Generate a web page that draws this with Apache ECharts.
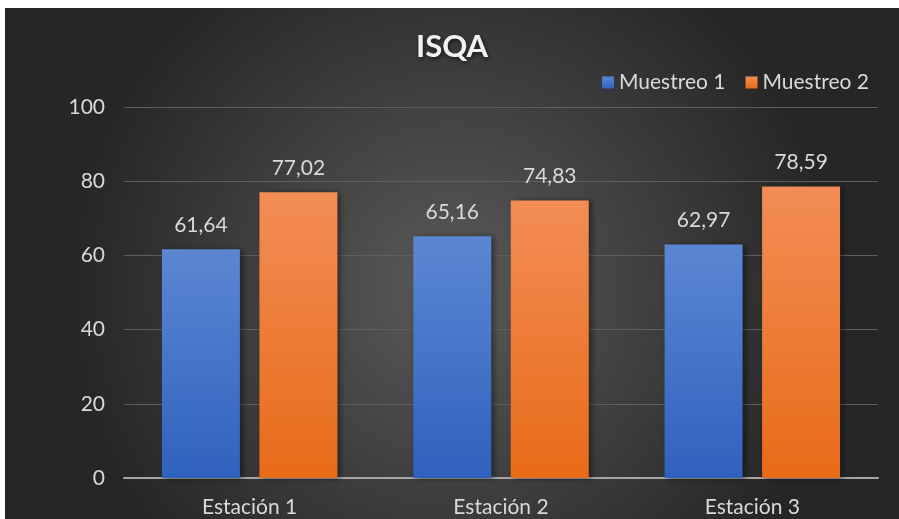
<!DOCTYPE html>
<html>
<head>
<meta charset="utf-8">
<script src="https://cdn.jsdelivr.net/npm/echarts@6/dist/echarts.min.js"></script>
<style>
    body { margin:0; background:#fff; }
    #isqaChart { position:absolute; left:5px; top:8px; width:894px; height:511px; }
</style>
</head>
<body>
<div id="isqaChart"></div>
<script>
var estaciones = ['Estación 1', 'Estación 2', 'Estación 3'];
var muestreo1 = [61.64, 65.16, 62.97];
var muestreo2 = [77.02, 74.83, 78.59];

function coma(p) {
    return p.value.toFixed(2).replace('.', ',');
}

function barFill(top, bottom) {
    return new echarts.graphic.LinearGradient(0, 0, 0, 1, [
        {offset: 0, color: top},
        {offset: 1, color: bottom}
    ]);
}

var isqaChart = echarts.init(document.getElementById('isqaChart'));
isqaChart.setOption({
    backgroundColor: {
        type: 'radial', x: 0.5, y: 0.55, r: 0.75,
        colorStops: [
            {offset: 0, color: '#5a5a5a'},
            {offset: 1, color: '#262626'}
        ]
    },
    textStyle: { fontFamily: 'Lato' },
    title: {
        text: 'ISQA',
        left: 'center',
        top: 18,
        textStyle: {
            color: '#f2f2f2',
            fontSize: 31,
            fontWeight: 'bold',
            fontFamily: 'Lato',
            textShadowColor: 'rgba(0,0,0,0.6)',
            textShadowBlur: 4,
            textShadowOffsetX: 1,
            textShadowOffsetY: 2
        }
    },
    legend: {
        right: 25,
        top: 59,
        itemWidth: 12,
        itemHeight: 12,
        itemGap: 20,
        icon: 'rect',
        textStyle: { color: '#d9d9d9', fontSize: 21 },
        data: ['Muestreo 1', 'Muestreo 2']
    },
    grid: {
        left: 119,
        right: 21,
        top: 99,
        bottom: 41
    },
    xAxis: {
        type: 'category',
        data: estaciones,
        axisTick: {show: false},
        axisLine: {lineStyle: {color: '#a6a6a6', width: 2}},
        axisLabel: {color: '#d9d9d9', fontSize: 21, margin: 19}
    },
    yAxis: {
        type: 'value',
        min: 0,
        max: 100,
        interval: 20,
        axisLine: {show: false},
        axisTick: {show: false},
        axisLabel: {color: '#d9d9d9', fontSize: 21, margin: 19},
        splitLine: {lineStyle: {color: '#5f5f5f', width: 1}}
    },
    series: [
        {
            name: 'Muestreo 1',
            type: 'bar',
            barWidth: 78,
            barGap: '25%',
            data: muestreo1,
            itemStyle: {
                color: barFill('#5b86d2', '#2f62be'),
                shadowColor: 'rgba(0,0,0,0.45)',
                shadowBlur: 6,
                shadowOffsetX: 3,
                shadowOffsetY: 1
            },
            label: {
                show: true,
                position: 'top',
                distance: 14,
                color: '#d9d9d9',
                fontSize: 21,
                formatter: coma
            }
        },
        {
            name: 'Muestreo 2',
            type: 'bar',
            barWidth: 78,
            data: muestreo2,
            itemStyle: {
                color: barFill('#f28d55', '#e86b18'),
                shadowColor: 'rgba(0,0,0,0.45)',
                shadowBlur: 6,
                shadowOffsetX: 3,
                shadowOffsetY: 1
            },
            label: {
                show: true,
                position: 'top',
                distance: 14,
                color: '#d9d9d9',
                fontSize: 21,
                formatter: coma
            }
        }
    ],
    color: ['#4472c4', '#ed7d31']
});
</script>
</body>
</html>
